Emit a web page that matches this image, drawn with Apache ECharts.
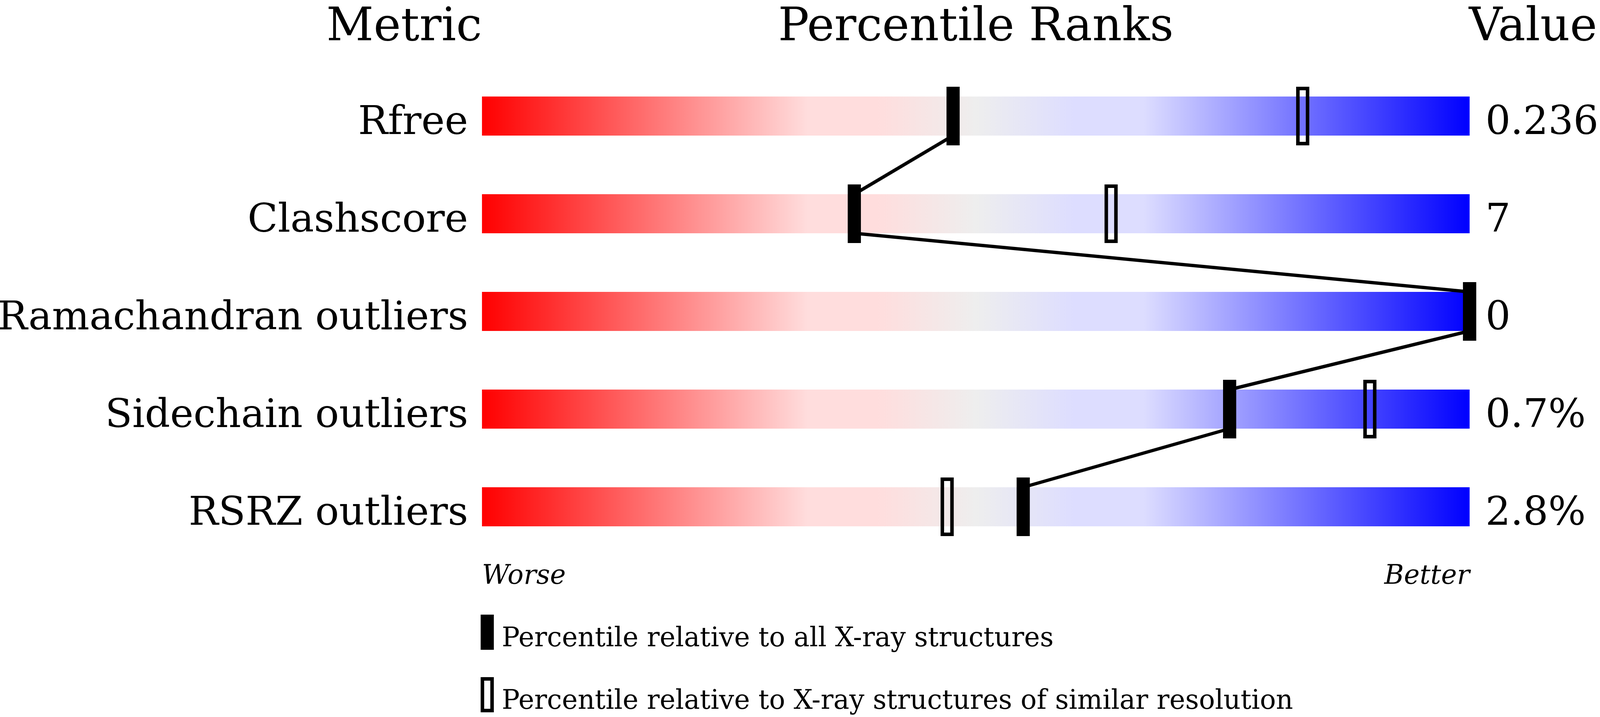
<!DOCTYPE html>
<html>
<head>
<meta charset="utf-8">
<script src="https://cdn.jsdelivr.net/npm/echarts@6/dist/echarts.min.js"></script>
<style>
  html, body { margin: 0; padding: 0; background: #fff; overflow: hidden; }
  #chart { width: 100vw; height: 100vh; }
</style>
</head>
<body>
<div id="chart"></div>
<script>
// validation slider data
var metrics = ['Rfree', 'Clashscore', 'Ramachandran outliers', 'Sidechain outliers', 'RSRZ outliers'];
var values = ['0.236', '7', '0', '0.7%', '2.8%'];
var pctAll = [47.7, 37.7, 100, 75.7, 54.8];       // percentile vs all X-ray structures
var pctSimilar = [83.1, 63.7, 100, 89.9, 47.1];   // percentile vs similar resolution
var fullScale = [100, 100, 100, 100, 100];
var legendNames = [
    'Percentile relative to all X-ray structures',
    'Percentile relative to X-ray structures of similar resolution'
];

var FONT = 'DejaVu Serif';

function getSlider(id) {
    var dom = document.getElementById(id);
    var W = dom.clientWidth || 4860;
    var H = dom.clientHeight || 1835;
    // layout was measured on a 4860 x 1835 page, scale it to the real one
    var sx = W / 4860, sy = H / 1835;
    var X = function (v) { return v * sx; };
    var Y = function (v) { return v * sy; };

    var fsHead = 140 * sx, fsLabel = 120 * sx, fsSmall = 81 * sx;
    var MID = 0.297; // canvas 'middle' sits this far (in em) above the baseline for DejaVu Serif
    var labelShift = Y(50) - MID * fsLabel; // baseline on the bottom edge of the bar

    var myChart = echarts.init(dom);

    var allData = pctAll.map(function (v, i) { return [v, i]; });
    var similarData = pctSimilar.map(function (v, i) { return [v, i]; });
    var linkData = [];
    for (var i = 0; i < pctAll.length - 1; i++) {
        linkData.push([pctAll[i], i, pctAll[i + 1], i + 1]);
    }

    var gradient = new echarts.graphic.LinearGradient(0, 0, 1, 0, [
        { offset: 0, color: '#ff0000' },
        { offset: 0.33, color: '#ffdddd' },
        { offset: 0.40, color: '#ffdddd' },
        { offset: 0.50, color: '#eeeeee' },
        { offset: 0.60, color: '#ddddff' },
        { offset: 0.67, color: '#ddddff' },
        { offset: 1, color: '#0000ff' }
    ]);

    var mw = X(40), mh = Y(150), border = 9;

    function headText(txt, x, baseline, align, font) {
        return {
            type: 'text',
            x: x,
            y: baseline,
            style: { text: txt, font: font, fill: '#000', align: align, verticalAlign: 'middle' }
        };
    }

    var headFont = fsHead + 'px "DejaVu Serif"';
    var smallFont = fsSmall + 'px "DejaVu Serif"';
    var italicFont = 'italic ' + fsSmall + 'px "DejaVu Serif"';

    var graphics = [
        headText('Metric', X(1464), Y(107) - MID * fsHead, 'right', headFont),
        headText('Percentile Ranks', X(2964), Y(107) - MID * fsHead, 'center', headFont),
        headText('Value', X(4462), Y(107) - MID * fsHead, 'left', headFont),
        headText('Worse', X(1464), Y(1497) - MID * fsSmall, 'left', italicFont),
        headText('Better', X(4464), Y(1497) - MID * fsSmall, 'right', italicFont)
    ];

    // legend: filled marker and hollow marker with their captions
    var legendTop = [1573, 1733];
    legendNames.forEach(function (name, k) {
        var top = Y(legendTop[k]);
        graphics.push(k === 0 ? {
            type: 'rect',
            shape: { x: X(1460), y: top, width: mw, height: Y(90) },
            style: { fill: '#000' }
        } : {
            type: 'rect',
            shape: { x: X(1460) + border / 2, y: top + border / 2, width: mw - border, height: Y(90) - border },
            style: { fill: 'none', stroke: '#000', lineWidth: border }
        });
        graphics.push(headText(name, X(1524), top + Y(84) - MID * fsSmall, 'left', smallFont));
    });

    var option = {
        animation: false,
        backgroundColor: '#fff',
        grid: {
            left: X(1464),
            right: W - X(4464),
            top: Y(172),
            bottom: Y(413),
            outerBoundsMode: 'none'
        },
        xAxis: {
            type: 'value',
            min: 0,
            max: 100,
            show: false
        },
        yAxis: [
            {
                type: 'category',
                data: metrics,
                inverse: true,
                axisLine: { show: false },
                axisTick: { show: false },
                axisLabel: {
                    interval: 0,
                    margin: X(42),
                    fontSize: fsLabel,
                    fontFamily: FONT,
                    color: '#000',
                    verticalAlign: 'top',
                    lineHeight: 2 * labelShift
                }
            },
            {
                type: 'category',
                data: values,
                inverse: true,
                position: 'right',
                axisLine: { show: false },
                axisTick: { show: false },
                axisLabel: {
                    interval: 0,
                    margin: X(48),
                    fontSize: fsLabel,
                    fontFamily: FONT,
                    color: '#000',
                    verticalAlign: 'top',
                    lineHeight: 2 * labelShift
                }
            }
        ],
        graphic: graphics,
        series: [
            {
                name: 'scale',
                type: 'bar',
                data: fullScale,
                barWidth: Y(100),
                silent: true,
                itemStyle: { color: gradient },
                z: 1
            },
            {
                name: 'links',
                type: 'custom',
                data: linkData,
                silent: true,
                z: 3,
                renderItem: function (params, api) {
                    var a = api.coord([api.value(0), api.value(1)]);
                    var b = api.coord([api.value(2), api.value(3)]);
                    return {
                        type: 'line',
                        shape: { x1: a[0], y1: a[1] + Y(50), x2: b[0], y2: b[1] - Y(50) },
                        style: { stroke: '#000', lineWidth: 8.5 }
                    };
                }
            },
            {
                name: legendNames[1],
                type: 'custom',
                data: similarData,
                silent: true,
                z: 4,
                renderItem: function (params, api) {
                    var p = api.coord([api.value(0), api.value(1)]);
                    return {
                        type: 'rect',
                        shape: {
                            x: p[0] - mw / 2 + border / 2,
                            y: p[1] - mh / 2 + border / 2,
                            width: mw - border,
                            height: mh - border
                        },
                        style: { fill: 'none', stroke: '#000', lineWidth: border }
                    };
                }
            },
            {
                name: legendNames[0],
                type: 'custom',
                data: allData,
                silent: true,
                z: 5,
                renderItem: function (params, api) {
                    var p = api.coord([api.value(0), api.value(1)]);
                    return {
                        type: 'rect',
                        shape: { x: p[0] - mw / 2, y: p[1] - mh / 2, width: mw, height: mh },
                        style: { fill: '#000' }
                    };
                }
            }
        ]
    };

    myChart.setOption(option);
}

getSlider('chart');
</script>
</body>
</html>
